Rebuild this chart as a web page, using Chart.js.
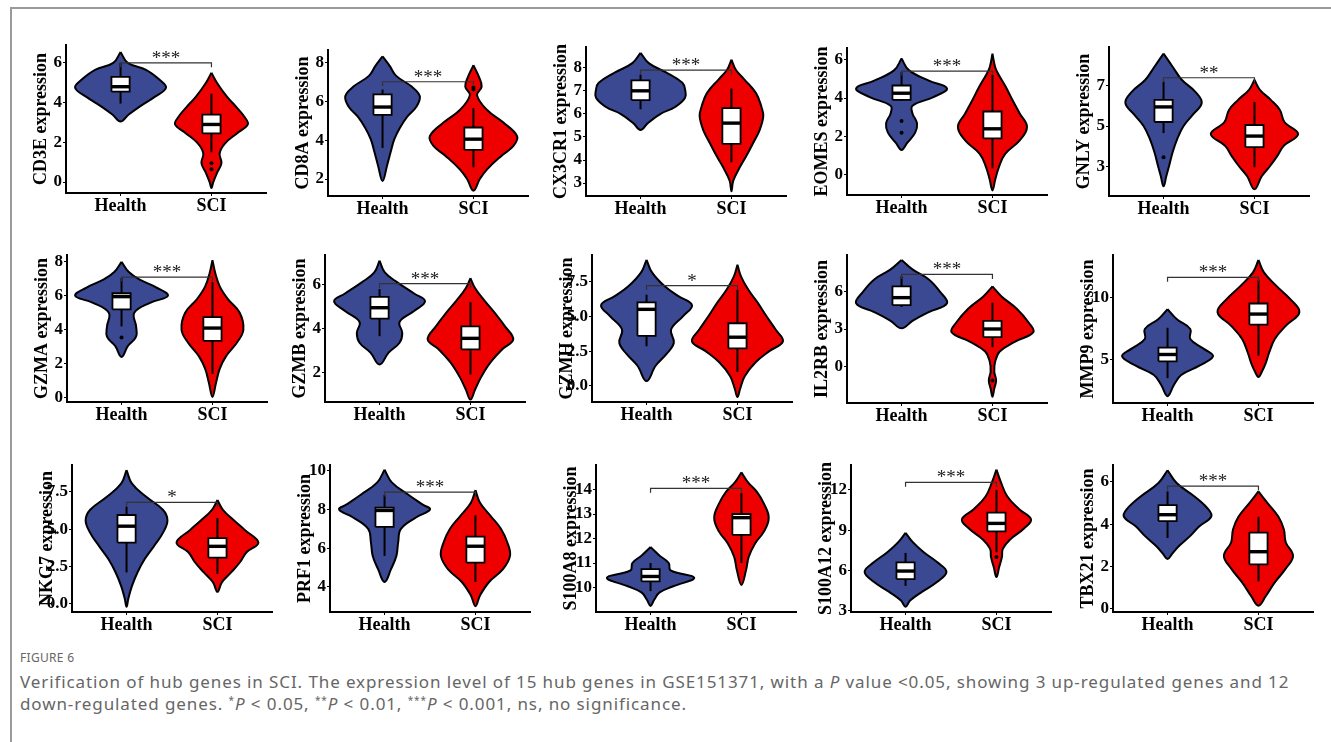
<!DOCTYPE html>
<html>
<head>
<meta charset="utf-8">
<script src="https://cdn.jsdelivr.net/npm/chart.js@4.4.0/dist/chart.umd.min.js"></script>
<style>
  body { margin: 0; background: #fff; width: 1331px; height: 742px; overflow: hidden; position: relative; font-family: 'Noto Sans', sans-serif; }
  .frame { position: absolute; left: 10px; top: 7px; width: 1400px; height: 800px; border: 2px solid #9a9a9a; box-sizing: border-box; }
  .panel { position: absolute; }
  .figlabel { position: absolute; left: 20px; top: 649px; font-size: 12px; color: #666; letter-spacing: 0.3px; }
  .caption { position: absolute; left: 20px; top: 671px; font-size: 17px; line-height: 22px; color: #666; white-space: nowrap; letter-spacing: 0.9px; }
  .caption sup { font-size: 10px; vertical-align: 6px; line-height: 0; }
</style>
</head>
<body>
<div class="frame"></div>
<div id="panels"></div>
<div class="figlabel">FIGURE 6</div>
<div class="caption">Verification of hub genes in SCI. The expression level of 15 hub genes in GSE151371, with a <i>P</i> value &lt;0.05, showing 3 up-regulated genes and 12<br>down-regulated genes. <sup>*</sup><i>P</i> &lt; 0.05, <sup>**</sup><i>P</i> &lt; 0.01, <sup>***</sup><i>P</i> &lt; 0.001, ns, no significance.</div>
<script>
// 15个枢纽基因的小提琴图（Health vs SCI）

const genes = ['CD3E', 'CD8A', 'CX3CR1', 'EOMES', 'GNLY',
  'GZMA', 'GZMB', 'GZMH', 'IL2RB', 'MMP9',
  'NKG7', 'PRF1', 'S100A8', 'S100A12', 'TBX21'];
const groups = ['Health', 'SCI'];

const yTickLabels = [
  ['0', '2', '4', '6'], ['2', '4', '6', '8'], ['3', '4', '5', '6', '7', '8'], ['0', '2', '4', '6'], ['3', '5', '7'],
  ['0', '2', '4', '6', '8'], ['2', '4', '6'], ['0.0', '2.5', '5.0', '7.5'], ['0', '3', '6'], ['5', '10'],
  ['0.0', '2.5', '5.0', '7.5'], ['4', '6', '8', '10'], ['10', '11', '12', '13', '14'], ['3', '6', '9', '12'], ['0', '2', '4', '6']
];
const yLimits = [
  [-0.55, 6.9], [1.13, 8.63], [2.44, 8.9], [-1.04, 6.6], [1.52, 8.93],
  [-0.25, 8.4], [0.64, 7.36], [-1.15, 9.4], [-2.9, 8.9], [1.5, 13.4],
  [-0.55, 9.3], [2.7, 10.3], [9.0, 15.0], [2.9, 13.85], [-0.15, 6.8]
];

// 小提琴轮廓：[表达值, 半宽]，自上而下
const healthViolin = [
  [[6.55,0],[6.0,0.08],[5.65,0.28],[5.15,0.43],[4.75,0.5],[4.3,0.38],[3.8,0.21],[3.4,0.09],[3.05,0]],
  [[8.3,0],[7.8,0.08],[7.3,0.15],[6.75,0.32],[6.25,0.41],[5.7,0.37],[5.2,0.27],[4.7,0.2],[4.05,0.13],[3.4,0.09],[2.7,0.05],[1.9,0]],
  [[8.65,0],[8.2,0.09],[7.8,0.28],[7.35,0.46],[7.05,0.49],[6.7,0.49],[6.3,0.38],[6.0,0.22],[5.6,0.08],[5.3,0]],
  [[6.05,0],[5.45,0.08],[4.9,0.3],[4.5,0.5],[4.05,0.35],[3.6,0.12],[3.2,0.12],[2.7,0.17],[2.2,0.15],[1.65,0.06],[1.3,0]],
  [[8.6,0],[7.95,0.1],[7.3,0.2],[6.7,0.35],[6.15,0.42],[5.55,0.32],[5.0,0.22],[4.35,0.15],[3.7,0.1],[3.0,0.06],[2.5,0.03],[2.0,0]],
  [[8.0,0],[7.4,0.08],[6.95,0.2],[6.5,0.38],[6.0,0.51],[5.6,0.32],[5.0,0.14],[4.2,0.16],[3.6,0.16],[3.05,0.07],[2.4,0]],
  [[7.1,0],[6.55,0.06],[6.1,0.2],[5.6,0.38],[5.25,0.5],[4.8,0.38],[4.3,0.22],[3.8,0.25],[3.35,0.22],[2.9,0.1],[2.35,0]],
  [[9.05,0],[8.15,0.06],[7.15,0.2],[6.45,0.35],[5.8,0.5],[5.0,0.4],[4.05,0.27],[3.1,0.3],[2.3,0.22],[1.45,0.1],[0.35,0]],
  [[8.5,0],[7.75,0.12],[6.95,0.3],[6.0,0.42],[5.05,0.5],[4.35,0.3],[3.65,0.12],[3.05,0]],
  [[9.05,0],[8.25,0.1],[7.45,0.25],[6.65,0.25],[5.85,0.4],[5.25,0.5],[4.5,0.35],[3.75,0.15],[2.95,0.07],[2.05,0]],
  [[8.95,0],[8.05,0.06],[7.15,0.22],[6.3,0.4],[5.6,0.45],[4.75,0.4],[3.85,0.3],[3.0,0.2],[2.1,0.12],[1.2,0.06],[0.35,0.02],[-0.2,0]],
  [[10.05,0],[9.4,0.08],[8.8,0.25],[8.25,0.42],[8.0,0.5],[7.6,0.35],[7.0,0.18],[6.3,0.15],[5.6,0.13],[4.9,0.07],[4.25,0]],
  [[11.65,0],[11.3,0.1],[11.0,0.2],[10.7,0.22],[10.4,0.48],[10.05,0.25],[9.8,0.1],[9.5,0.04],[9.25,0]],
  [[8.8,0],[8.1,0.08],[7.35,0.2],[6.6,0.35],[5.9,0.45],[5.15,0.35],[4.4,0.18],[3.75,0.05],[3.3,0]],
  [[6.55,0],[5.95,0.1],[5.3,0.3],[4.7,0.45],[4.35,0.48],[3.9,0.35],[3.45,0.25],[2.95,0.12],[2.6,0.05],[2.35,0]]
];
const sciViolin = [
  [[5.5,0],[5.0,0.06],[4.3,0.17],[3.8,0.27],[3.3,0.36],[2.9,0.4],[2.45,0.28],[1.95,0.15],[1.45,0.09],[0.95,0.11],[0.45,0.06],[0,0.02],[-0.3,0]],
  [[7.85,0],[7.25,0.06],[6.75,0.09],[6.3,0.04],[5.55,0.15],[4.9,0.33],[4.2,0.48],[3.7,0.44],[3.2,0.31],[2.5,0.15],[2.0,0.07],[1.4,0]],
  [[8.35,0],[7.9,0.05],[7.5,0.14],[6.9,0.27],[6.3,0.33],[5.9,0.35],[5.3,0.31],[4.75,0.24],[4.15,0.16],[3.6,0.08],[3.1,0.02],[2.65,0]],
  [[6.3,0],[5.6,0.03],[5.2,0.07],[4.55,0.15],[3.9,0.22],[3.2,0.3],[2.5,0.38],[1.8,0.3],[1.1,0.14],[0.4,0.07],[-0.25,0.03],[-0.8,0]],
  [[7.3,0],[6.8,0.06],[6.3,0.18],[5.8,0.28],[5.2,0.33],[4.6,0.48],[4.0,0.32],[3.5,0.25],[3.0,0.17],[2.5,0.08],[1.85,0]],
  [[8.1,0],[7.35,0.03],[6.55,0.08],[5.8,0.17],[5.0,0.3],[4.0,0.34],[3.25,0.27],[2.45,0.15],[1.7,0.08],[0.9,0.04],[0.05,0]],
  [[6.3,0],[5.85,0.05],[5.3,0.15],[4.7,0.27],[4.1,0.38],[3.5,0.47],[3.05,0.35],[2.45,0.22],[1.8,0.12],[1.2,0.05],[0.75,0]],
  [[8.7,0],[7.85,0.04],[6.9,0.12],[6.0,0.22],[5.0,0.32],[4.05,0.42],[3.2,0.5],[2.5,0.35],[1.7,0.2],[0.7,0.08],[-0.2,0.03],[-0.8,0]],
  [[6.4,0],[5.6,0.1],[4.6,0.27],[3.5,0.4],[2.75,0.45],[2.0,0.25],[1.2,0.08],[0.4,0.03],[-0.4,0.02],[-1.1,0.04],[-1.75,0.02],[-2.4,0]],
  [[13.0,0],[12.0,0.06],[10.9,0.2],[9.85,0.35],[8.8,0.45],[7.7,0.3],[6.65,0.18],[5.6,0.12],[4.7,0.08],[4.05,0.04],[3.6,0]],
  [[6.95,0],[6.3,0.06],[5.6,0.18],[4.95,0.3],[4.1,0.45],[3.45,0.32],[2.8,0.25],[2.1,0.15],[1.45,0.05],[0.8,0]],
  [[9.0,0],[8.35,0.05],[7.65,0.17],[7.0,0.28],[6.3,0.35],[5.6,0.38],[4.9,0.3],[4.25,0.15],[3.55,0.05],[3.0,0]],
  [[14.7,0],[14.3,0.07],[13.9,0.17],[13.4,0.25],[12.85,0.3],[12.3,0.25],[11.8,0.15],[11.25,0.08],[10.7,0.05],[10.1,0]],
  [[13.5,0],[12.55,0.05],[11.5,0.12],[10.55,0.25],[9.8,0.38],[9.1,0.3],[8.3,0.15],[7.6,0.07],[7.0,0.06],[6.25,0.03],[5.5,0]],
  [[5.55,0],[5.0,0.1],[4.35,0.22],[3.75,0.28],[3.15,0.3],[2.5,0.38],[1.9,0.3],[1.25,0.18],[0.6,0.08],[0.15,0]]
];

// 箱线图：[下须, Q1, 中位数, Q3, 上须]
const healthBox = [
  [3.95,4.55,4.8,5.3,6.0], [3.6,5.3,5.7,6.35,6.6], [6.2,6.6,7.0,7.45,7.7], [3.85,3.9,4.25,4.65,5.35], [4.65,5.2,5.95,6.3,7.2],
  [4.2,5.2,5.95,6.15,7.05], [3.65,4.45,4.95,5.45,5.8], [2.85,3.6,5.5,6.0,6.55], [4.75,4.9,5.5,6.4,7.2], [3.5,4.85,5.4,5.95,7.55],
  [2.1,4.1,5.2,5.95,6.5], [5.6,7.1,7.95,8.1,8.75], [9.85,10.25,10.45,10.75,11.0], [4.85,5.35,5.95,6.6,7.3], [3.35,4.15,4.45,4.9,5.55]
];
const sciBox = [
  [1.5,2.45,2.9,3.4,4.45], [2.6,3.5,4.05,4.65,5.65], [3.9,4.7,5.6,6.25,7.1], [0.35,1.9,2.4,3.3,5.2], [2.95,3.95,4.5,5.05,6.2],
  [1.4,3.35,4.1,4.75,6.8], [1.9,3.05,3.55,4.1,5.2], [1.0,2.7,3.5,4.5,6.9], [1.55,2.35,3.0,3.65,5.1], [5.3,7.8,8.65,9.5,11.4],
  [2.0,3.1,3.85,4.4,5.75], [4.25,5.25,6.1,6.6,7.7], [11.0,12.15,12.85,13.0,13.85], [7.35,8.9,9.5,10.3,12.0], [1.3,2.1,2.7,3.6,4.35]
];
const healthOutliers = [[], [], [], [2.8, 2.2], [3.45], [3.55], [], [], [], [], [], [], [], [], []];
const sciOutliers = [[0.95, 0.65], [6.7, 6.6], [], [], [], [], [], [], [-1.1], [], [], [], [], [7.0], []];

const bracketY = [6.0, 7.0, 7.9, 5.4, 7.4, 7.1, 6.05, 7.2, 7.35, 11.6, 6.8, 8.9, 14.05, 12.55, 5.8];
const signif = ['***', '***', '***', '***', '**', '***', '***', '*', '***', '***', '*', '***', '***', '***', '***'];

// 各子图坐标轴位置：[y轴x坐标, 绘图区顶部, 绘图区底部]
const panelPos = [
  [66, 45, 193], [328, 50, 196], [586, 47, 196], [847, 48, 195], [1109, 47, 196],
  [67, 255, 402], [325, 255, 402], [592, 255, 402], [847, 255, 403], [1113, 255, 403],
  [72, 465, 612], [330, 465, 612], [596, 465, 612], [851, 465, 612], [1113, 465, 612]
];

const COLORS = ['#3B4992', '#EE0000'];
const BOX_HALF = 0.1;
const AXIS_W = 35, AXIS_H = 30, PAD_L = 5, PAD_T = 12, PAD_R = 8, AREA_W = 200;

function violinPoints(profile, centre) {
  const right = profile.map(([v, w]) => ({ x: centre + w, y: v }));
  const left = profile.slice(0, -1).reverse().map(([v, w]) => ({ x: centre - w, y: v }));
  return right.concat(left);
}

function boxPoints(b, centre) {
  return [
    { x: centre - BOX_HALF, y: b[1] }, { x: centre + BOX_HALF, y: b[1] },
    { x: centre + BOX_HALF, y: b[3] }, { x: centre - BOX_HALF, y: b[3] },
    { x: centre - BOX_HALF, y: b[1] }
  ];
}

const base = { showLine: true, pointRadius: 0, tension: 0, fill: false, borderColor: '#000', clip: false };

const starPlugin = {
  id: 'stars',
  afterDatasetsDraw(chart, args, opts) {
    const { ctx, scales: { x, y } } = chart;
    ctx.save();
    ctx.font = '19px "Liberation Serif"';
    ctx.fillStyle = '#222';
    ctx.textAlign = 'center';
    ctx.textBaseline = 'alphabetic';
    ctx.fillText(opts.text, x.getPixelForValue(1.5), y.getPixelForValue(opts.y) + 1);
    ctx.restore();
  }
};

function buildPanel(i) {
  const [ax, top, bottom] = panelPos[i];
  const canvas = document.createElement('canvas');
  const w = PAD_L + AXIS_W + AREA_W + PAD_R;
  const h = PAD_T + (bottom - top) + AXIS_H;
  canvas.width = w; canvas.height = h;
  canvas.className = 'panel';
  canvas.style.left = (ax - PAD_L - AXIS_W) + 'px';
  canvas.style.top = (top - PAD_T) + 'px';
  document.getElementById('panels').appendChild(canvas);

  const boxes = [healthBox[i], sciBox[i]];
  const violins = [healthViolin[i], sciViolin[i]];
  const outliers = [healthOutliers[i], sciOutliers[i]];
  const span = yLimits[i][1] - yLimits[i][0];
  const tip = span * 0.03;

  const layers = [];
  [0, 1].forEach(g => layers.push({ ...base, data: violinPoints(violins[g], g + 1), tension: 0.4,
    fill: 'shape', backgroundColor: COLORS[g], borderWidth: 2 }));
  [0, 1].forEach(g => layers.push({ ...base, data: [{ x: g + 1, y: boxes[g][0] }, { x: g + 1, y: boxes[g][4] }], borderWidth: 2 }));
  [0, 1].forEach(g => layers.push({ ...base, data: boxPoints(boxes[g], g + 1), fill: 'shape', backgroundColor: '#fff', borderWidth: 1.8 }));
  [0, 1].forEach(g => layers.push({ ...base, data: [{ x: g + 1 - BOX_HALF, y: boxes[g][2] }, { x: g + 1 + BOX_HALF, y: boxes[g][2] }], borderWidth: 3.4 }));
  [0, 1].forEach(g => layers.push({ ...base, showLine: false, data: outliers[g].map(v => ({ x: g + 1, y: v })),
    pointRadius: 2, pointBackgroundColor: '#000', pointBorderWidth: 0 }));
  layers.push({ ...base, borderColor: '#333', borderWidth: 1.2,
    data: [{ x: 1, y: bracketY[i] - tip }, { x: 1, y: bracketY[i] }, { x: 2, y: bracketY[i] }, { x: 2, y: bracketY[i] - tip }] });
  layers.forEach((d, k) => { d.order = layers.length - k; });

  const tickVals = yTickLabels[i].map(parseFloat);
  const serif = { family: '"Liberation Serif", "Times New Roman", serif', weight: 'bold' };

  new Chart(canvas, {
    type: 'scatter',
    data: { datasets: layers },
    options: {
      responsive: false,
      animation: false,
      devicePixelRatio: 1,
      layout: { padding: { left: PAD_L, top: PAD_T, right: PAD_R, bottom: 0 } },
      plugins: { legend: { display: false }, tooltip: { enabled: false }, stars: { text: signif[i], y: bracketY[i] } },
      scales: {
        x: {
          type: 'linear', min: 0.4, max: 2.6,
          afterBuildTicks: s => { s.ticks = [{ value: 1 }, { value: 2 }]; },
          afterFit: s => { s.height = AXIS_H; },
          ticks: { autoSkip: false, padding: 0, color: '#000', font: { ...serif, size: 18 }, callback: (v, k) => groups[k] },
          grid: { display: true, drawOnChartArea: false, tickLength: 3, color: '#000' },
          border: { display: true, color: '#000', width: 2 }
        },
        y: {
          type: 'linear', min: yLimits[i][0], max: yLimits[i][1],
          afterBuildTicks: s => { s.ticks = tickVals.map(v => ({ value: v })); },
          afterFit: s => { s.width = AXIS_W; },
          ticks: { autoSkip: false, padding: 1, color: '#000', font: { ...serif, size: 17 }, callback: (v, k) => yTickLabels[i][k] },
          grid: { display: true, drawOnChartArea: false, tickLength: 3, color: '#000' },
          border: { display: true, color: '#000', width: 2 },
          title: { display: true, text: genes[i] + ' expression', color: '#000', padding: 0, font: { ...serif, size: 18 } }
        }
      }
    },
    plugins: [starPlugin]
  });
}

genes.forEach((g, i) => buildPanel(i));
</script>
</body>
</html>
